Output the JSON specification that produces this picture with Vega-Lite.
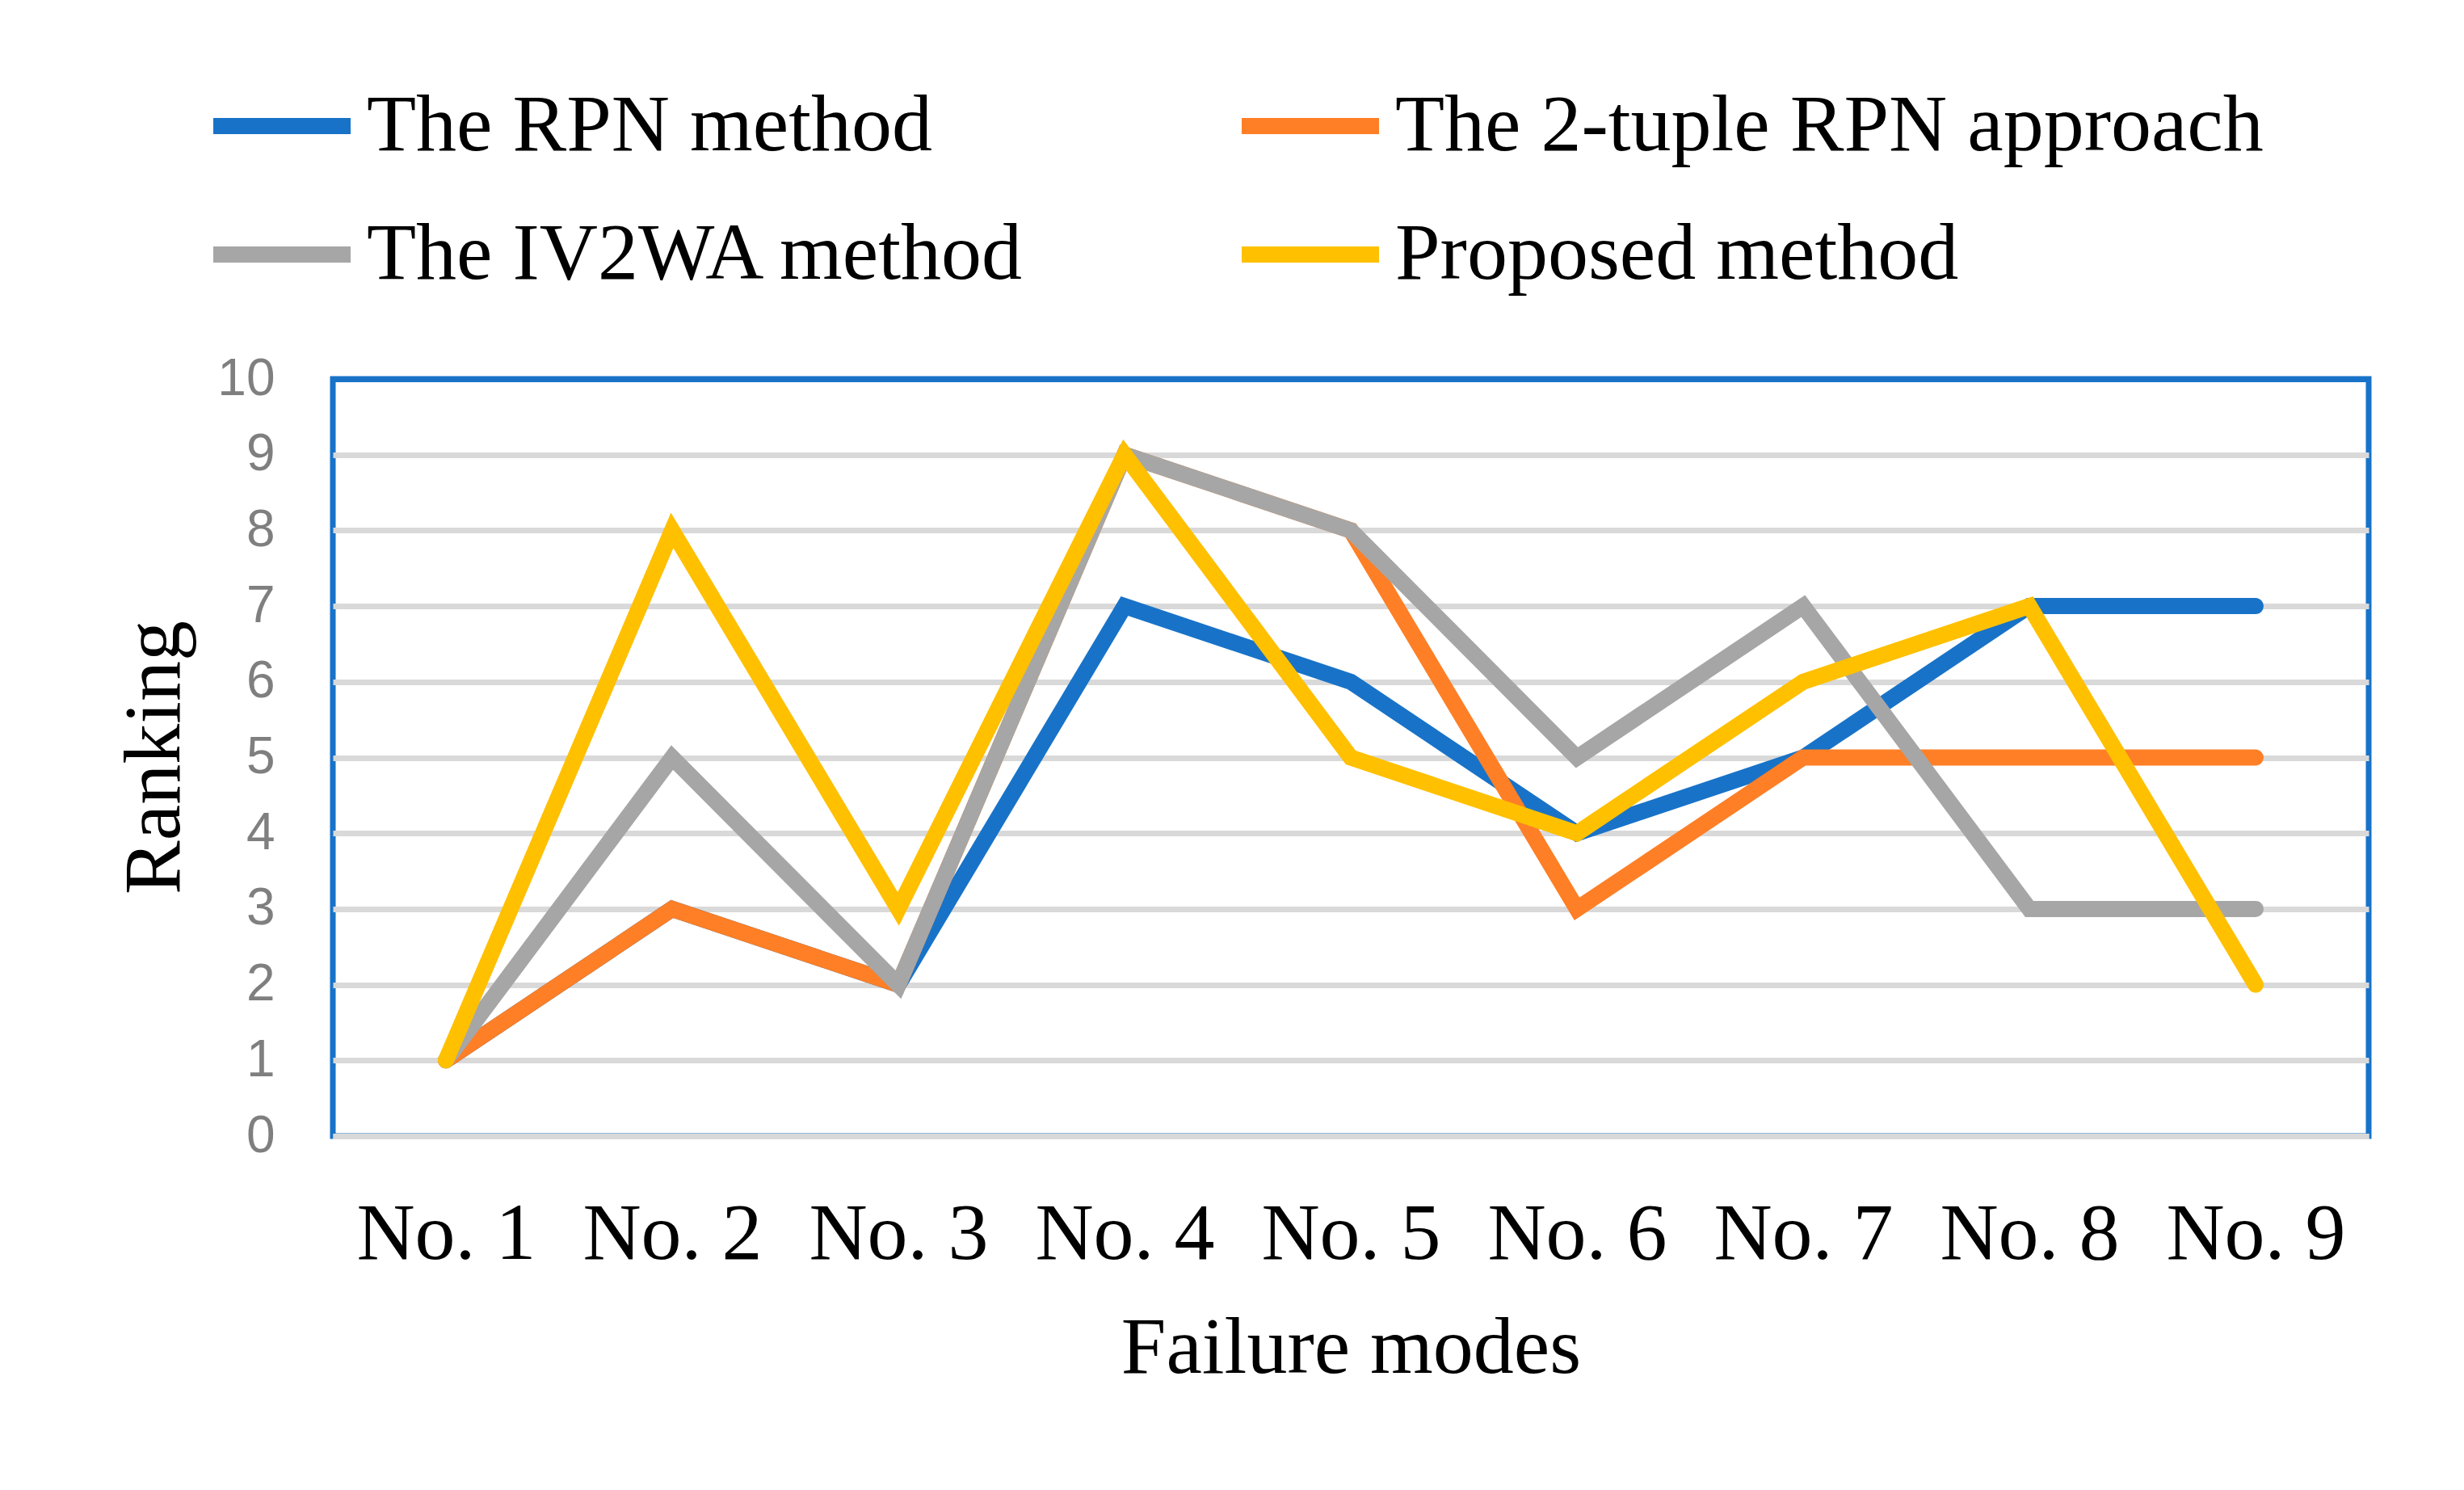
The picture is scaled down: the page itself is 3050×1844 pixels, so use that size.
{
  "$schema": "https://vega.github.io/schema/vega-lite/v6.json",
  "width": 2520,
  "height": 937,
  "autosize": {"type": "none"},
  "padding": {"left": 412, "top": 469, "right": 118, "bottom": 438},
  "background": "white",
  "config": {
    "view": {"stroke": "#1873C8", "strokeWidth": 7},
    "legend": {"padding": 0}
  },
  "data": {
    "values": [
      {"mode": "No. 1", "method": "The RPN method", "rank": 1},
      {"mode": "No. 2", "method": "The RPN method", "rank": 3},
      {"mode": "No. 3", "method": "The RPN method", "rank": 2},
      {"mode": "No. 4", "method": "The RPN method", "rank": 7},
      {"mode": "No. 5", "method": "The RPN method", "rank": 6},
      {"mode": "No. 6", "method": "The RPN method", "rank": 4},
      {"mode": "No. 7", "method": "The RPN method", "rank": 5},
      {"mode": "No. 8", "method": "The RPN method", "rank": 7},
      {"mode": "No. 9", "method": "The RPN method", "rank": 7},
      {"mode": "No. 1", "method": "The 2-tuple RPN approach", "rank": 1},
      {"mode": "No. 2", "method": "The 2-tuple RPN approach", "rank": 3},
      {"mode": "No. 3", "method": "The 2-tuple RPN approach", "rank": 2},
      {"mode": "No. 4", "method": "The 2-tuple RPN approach", "rank": 9},
      {"mode": "No. 5", "method": "The 2-tuple RPN approach", "rank": 8},
      {"mode": "No. 6", "method": "The 2-tuple RPN approach", "rank": 3},
      {"mode": "No. 7", "method": "The 2-tuple RPN approach", "rank": 5},
      {"mode": "No. 8", "method": "The 2-tuple RPN approach", "rank": 5},
      {"mode": "No. 9", "method": "The 2-tuple RPN approach", "rank": 5},
      {"mode": "No. 1", "method": "The IV2WA method", "rank": 1},
      {"mode": "No. 2", "method": "The IV2WA method", "rank": 5},
      {"mode": "No. 3", "method": "The IV2WA method", "rank": 2},
      {"mode": "No. 4", "method": "The IV2WA method", "rank": 9},
      {"mode": "No. 5", "method": "The IV2WA method", "rank": 8},
      {"mode": "No. 6", "method": "The IV2WA method", "rank": 5},
      {"mode": "No. 7", "method": "The IV2WA method", "rank": 7},
      {"mode": "No. 8", "method": "The IV2WA method", "rank": 3},
      {"mode": "No. 9", "method": "The IV2WA method", "rank": 3},
      {"mode": "No. 1", "method": "Proposed method", "rank": 1},
      {"mode": "No. 2", "method": "Proposed method", "rank": 8},
      {"mode": "No. 3", "method": "Proposed method", "rank": 3},
      {"mode": "No. 4", "method": "Proposed method", "rank": 9},
      {"mode": "No. 5", "method": "Proposed method", "rank": 5},
      {"mode": "No. 6", "method": "Proposed method", "rank": 4},
      {"mode": "No. 7", "method": "Proposed method", "rank": 6},
      {"mode": "No. 8", "method": "Proposed method", "rank": 7},
      {"mode": "No. 9", "method": "Proposed method", "rank": 2}
    ]
  },
  "mark": {"type": "line", "strokeWidth": 20, "strokeCap": "round", "strokeJoin": "miter", "clip": false},
  "encoding": {
    "x": {
      "field": "mode",
      "type": "ordinal",
      "sort": null,
      "scale": {"type": "point", "padding": 0.5},
      "axis": {
        "title": "Failure modes",
        "titleFont": "Liberation Serif",
        "titleFontSize": 100,
        "titleFontWeight": "normal",
        "titleColor": "black",
        "titleBaseline": "alphabetic",
        "titleX": 1260,
        "titleY": 292,
        "titleAlign": "center",
        "labelFont": "Liberation Serif",
        "labelFontSize": 100,
        "labelColor": "black",
        "labelAngle": 0,
        "labelPadding": 72,
        "labelLimit": 1000,
        "labelOverlap": false,
        "ticks": false,
        "tickSize": 0,
        "grid": false,
        "domain": true,
        "domainColor": "#d9d9d9",
        "domainWidth": 7
      }
    },
    "y": {
      "field": "rank",
      "type": "quantitative",
      "scale": {"domain": [0, 10], "nice": false},
      "axis": {
        "title": "Ranking",
        "titleFont": "Liberation Serif",
        "titleFontSize": 100,
        "titleFontWeight": "normal",
        "titleColor": "black",
        "titleAngle": -90,
        "titleBaseline": "alphabetic",
        "titleAlign": "center",
        "titleX": -191,
        "titleY": 468,
        "values": [0, 1, 2, 3, 4, 5, 6, 7, 8, 9, 10],
        "labelFont": "Liberation Sans",
        "labelFontSize": 64,
        "labelColor": "#7f7f7f",
        "labelPadding": 72,
        "ticks": false,
        "tickSize": 0,
        "domain": false,
        "grid": true,
        "gridColor": {"condition": {"test": "datum.value === 10", "value": "#1873C8"}, "value": "#d9d9d9"},
        "gridWidth": 7
      }
    },
    "color": {
      "field": "method",
      "type": "nominal",
      "sort": null,
      "scale": {
        "domain": ["The RPN method", "The 2-tuple RPN approach", "The IV2WA method", "Proposed method"],
        "range": ["#1873C8", "#FE7F26", "#A6A6A6", "#FFC000"]
      },
      "legend": {
        "title": null,
        "orient": "none",
        "legendX": -158,
        "legendY": -408,
        "columns": 2,
        "direction": "horizontal",
        "symbolType": "stroke",
        "symbolSize": 28900,
        "symbolStrokeWidth": 20,
        "labelFont": "Liberation Serif",
        "labelFontSize": 100,
        "labelColor": "black",
        "labelOffset": 10,
        "labelLimit": 2000,
        "columnPadding": 226,
        "rowPadding": 14
      }
    }
  }
}
